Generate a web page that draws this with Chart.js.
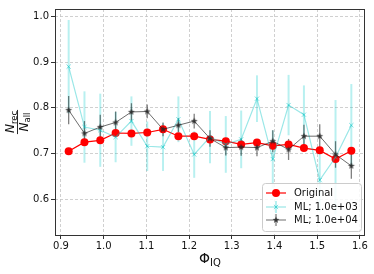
<!DOCTYPE html>
<html>
<head>
<meta charset="utf-8">
<script src="https://cdn.jsdelivr.net/npm/chart.js@4"></script>
<style>
  html, body { margin: 0; padding: 0; background: #fff; }
  #wrap { width: 374px; height: 274px; }
</style>
</head>
<body>
<div id="wrap"><canvas id="grafic" width="374" height="274"></canvas></div>
<script>
// ---------- Dades ----------
const phiIQ = [0.918, 0.955, 0.992, 1.028, 1.065, 1.102, 1.139, 1.175, 1.212, 1.249,
               1.286, 1.322, 1.359, 1.396, 1.433, 1.469, 1.506, 1.543, 1.580];

const original = [0.705, 0.725, 0.729, 0.745, 0.744, 0.746, 0.753, 0.738, 0.738, 0.731,
                  0.727, 0.720, 0.724, 0.717, 0.720, 0.712, 0.707, 0.688, 0.706];

const ml1e3 = [0.890, 0.758, 0.751, 0.736, 0.771, 0.716, 0.714, 0.775, 0.698, 0.736,
               0.720, 0.731, 0.820, 0.688, 0.806, 0.785, 0.642, 0.692, 0.762];
const ml1e3Err = [0.102, 0.078, 0.080, 0.055, 0.054, 0.054, 0.052, 0.050, 0.051, 0.057,
                  0.062, 0.063, 0.051, 0.063, 0.066, 0.064, 0.070, 0.125, 0.090];

const ml1e4 = [0.795, 0.744, 0.758, 0.768, 0.791, 0.792, 0.753, 0.762, 0.771, 0.733,
               0.713, 0.714, 0.713, 0.727, 0.709, 0.738, 0.738, 0.698, 0.673];
const ml1e4Err = [0.031, 0.027, 0.027, 0.024, 0.019, 0.015, 0.015, 0.015, 0.016, 0.018,
                  0.017, 0.019, 0.019, 0.024, 0.023, 0.025, 0.026, 0.029, 0.028];

const xTicks = [0.9, 1.0, 1.1, 1.2, 1.3, 1.4, 1.5, 1.6];
const yTicks = [0.6, 0.7, 0.8, 0.9, 1.0];
const etiquetes = ["Original", "ML; 1.0e+03", "ML; 1.0e+04"];

// ---------- Estils ----------
const vermell = "#ff0000";
const cian = "rgba(0,195,195,0.4)";
const cianBarra = "rgba(0,200,200,0.28)";
const negre = "rgba(30,30,30,0.65)";
const negreBarra = "rgba(0,0,0,0.5)";
const fontTicks = { family: "DejaVu Sans", size: 10 };

// estrella plena (marcador '*')
function ferEstrella(r, color) {
  const c = document.createElement("canvas");
  c.width = c.height = Math.ceil(r * 2 + 2);
  const g = c.getContext("2d");
  const cx = c.width / 2, cy = c.height / 2;
  g.beginPath();
  for (let i = 0; i < 10; i++) {
    const rad = i % 2 === 0 ? r : r * 0.42;
    const a = -Math.PI / 2 + i * Math.PI / 5;
    const px = cx + rad * Math.cos(a), py = cy + rad * Math.sin(a);
    if (i === 0) g.moveTo(px, py); else g.lineTo(px, py);
  }
  g.closePath();
  g.fillStyle = color;
  g.fill();
  return c;
}
const estrella = ferEstrella(3.6, "rgba(40,40,40,0.85)");

const punts = vals => vals.map((v, i) => ({ x: phiIQ[i], y: v }));

// ---------- Barres d'error ----------
const barresError = {
  id: "barresError",
  beforeDatasetsDraw(chart) {
    const { ctx, scales: { x, y } } = chart;
    chart.data.datasets.forEach(ds => {
      if (!ds.errors) return;
      ctx.save();
      ctx.strokeStyle = ds.errorColor;
      ctx.lineWidth = ds.errorWidth;
      ds.data.forEach((p, i) => {
        const px = x.getPixelForValue(p.x);
        ctx.beginPath();
        ctx.moveTo(px, y.getPixelForValue(p.y - ds.errors[i]));
        ctx.lineTo(px, y.getPixelForValue(p.y + ds.errors[i]));
        ctx.stroke();
      });
      ctx.restore();
    });
  }
};

// ---------- Marc, títols i llegenda ----------
const decoracio = {
  id: "decoracio",
  afterDraw(chart) {
    const { ctx, chartArea: a } = chart;
    ctx.save();

    // marc
    ctx.strokeStyle = "#333";
    ctx.lineWidth = 1;
    ctx.strokeRect(a.left + 0.5, a.top + 0.5, a.right - a.left - 1, a.bottom - a.top);

    // títol eix x
    ctx.fillStyle = "#111";
    ctx.textBaseline = "alphabetic";
    ctx.font = "14px DejaVu Sans";
    const wPhi = ctx.measureText("Φ").width;
    ctx.font = "10px DejaVu Sans";
    const wIQ = ctx.measureText("IQ").width;
    const cx = (a.left + a.right) / 2;
    const x0 = cx - (wPhi + wIQ) / 2;
    ctx.font = "14px DejaVu Sans";
    ctx.fillText("Φ", x0, 263);
    ctx.font = "10px DejaVu Sans";
    ctx.fillText("IQ", x0 + wPhi, 266);

    // títol eix y (fracció)
    ctx.save();
    ctx.translate(17.5, (a.top + a.bottom) / 2);
    ctx.rotate(-Math.PI / 2);
    const fraccio = (base, sub, yb) => {
      ctx.font = "italic 12px DejaVu Sans";
      const wN = ctx.measureText(base).width;
      ctx.font = "8.5px DejaVu Sans";
      const wS = ctx.measureText(sub).width;
      const w = wN + wS;
      ctx.font = "italic 12px DejaVu Sans";
      ctx.fillText(base, -w / 2, yb);
      ctx.font = "8.5px DejaVu Sans";
      ctx.fillText(sub, -w / 2 + wN, yb + 2.5);
      return w;
    };
    const w1 = fraccio("N", "rec", -3.5);
    const w2 = fraccio("N", "all", 10);
    const wl = Math.max(w1, w2) + 2;
    ctx.fillRect(-wl / 2, -0.5, wl, 0.9);
    ctx.restore();

    // llegenda
    const lx = 262, ly = 183, lw = 99, lh = 48;
    ctx.fillStyle = "rgba(255,255,255,0.85)";
    ctx.strokeStyle = "#cccccc";
    ctx.beginPath();
    ctx.roundRect(lx + 0.5, ly + 0.5, lw, lh, 3);
    ctx.fill();
    ctx.stroke();

    const files = [193, 207, 220];
    chart.data.datasets.forEach((ds, i) => {
      const yy = files[i];
      ctx.strokeStyle = ds.borderColor;
      ctx.lineWidth = ds.borderWidth;
      ctx.beginPath();
      ctx.moveTo(266, yy);
      ctx.lineTo(286, yy);
      ctx.stroke();
      if (ds.errors) {
        ctx.strokeStyle = ds.errorColor;
        ctx.lineWidth = ds.errorWidth;
        ctx.beginPath();
        ctx.moveTo(276, yy - 6);
        ctx.lineTo(276, yy + 6);
        ctx.stroke();
      }
      ctx.fillStyle = ds.pointBackgroundColor;
      ctx.strokeStyle = ds.pointBorderColor;
      ctx.lineWidth = ds.pointBorderWidth;
      Chart.helpers.drawPoint(ctx, {
        pointStyle: ds.pointStyle, radius: ds.pointRadius, rotation: 0,
        borderWidth: ds.pointBorderWidth
      }, 276, yy);
      ctx.fillStyle = "#111";
      ctx.font = "10px DejaVu Sans";
      ctx.textBaseline = "middle";
      ctx.fillText(etiquetes[i], 294, yy + 0.5);
    });

    ctx.restore();
  }
};

// ---------- Gràfic ----------
new Chart(document.getElementById("grafic"), {
  type: "scatter",
  data: {
    datasets: [
      {
        label: etiquetes[0],
        data: punts(original),
        showLine: true,
        borderColor: vermell,
        borderWidth: 1.2,
        pointStyle: "circle",
        pointRadius: 4,
        pointBackgroundColor: vermell,
        pointBorderColor: vermell,
        pointBorderWidth: 0,
        order: 3
      },
      {
        label: etiquetes[1],
        data: punts(ml1e3),
        errors: ml1e3Err,
        errorColor: cianBarra,
        errorWidth: 2,
        showLine: true,
        borderColor: cian,
        borderWidth: 1.2,
        pointStyle: "crossRot",
        pointRadius: 3,
        pointBackgroundColor: cian,
        pointBorderColor: "rgba(0,195,195,0.5)",
        pointBorderWidth: 1,
        order: 2
      },
      {
        label: etiquetes[2],
        data: punts(ml1e4),
        errors: ml1e4Err,
        errorColor: negreBarra,
        errorWidth: 1.3,
        showLine: true,
        borderColor: negre,
        borderWidth: 1,
        pointStyle: estrella,
        pointRadius: 4,
        pointBackgroundColor: negre,
        pointBorderColor: negre,
        pointBorderWidth: 0,
        order: 1
      }
    ]
  },
  options: {
    responsive: false,
    animation: false,
    layout: { padding: { top: 9, right: 9, left: 0, bottom: 0 } },
    plugins: {
      legend: { display: false },
      tooltip: { enabled: false }
    },
    scales: {
      x: {
        type: "linear",
        min: 0.886,
        max: 1.612,
        afterBuildTicks: s => { s.ticks = xTicks.map(v => ({ value: v })); },
        afterFit: s => { s.height = 39; },
        ticks: {
          callback: v => v.toFixed(1),
          font: fontTicks, color: "#111", padding: 1,
          maxRotation: 0, autoSkip: false
        },
        grid: {
          color: "#c4c4c4", lineWidth: 0.8,
          tickColor: "#333", tickLength: 4, tickWidth: 1
        },
        border: { display: false, dash: [3, 2] }
      },
      y: {
        type: "linear",
        min: 0.522,
        max: 1.016,
        afterBuildTicks: s => { s.ticks = yTicks.map(v => ({ value: v })); },
        afterFit: s => { s.width = 55; },
        ticks: {
          callback: v => v.toFixed(1),
          font: fontTicks, color: "#111", padding: 2,
          autoSkip: false
        },
        grid: {
          color: "#c4c4c4", lineWidth: 0.8,
          tickColor: "#333", tickLength: 4, tickWidth: 1
        },
        border: { display: false, dash: [3, 2] }
      }
    }
  },
  plugins: [barresError, decoracio]
});
</script>
</body>
</html>
